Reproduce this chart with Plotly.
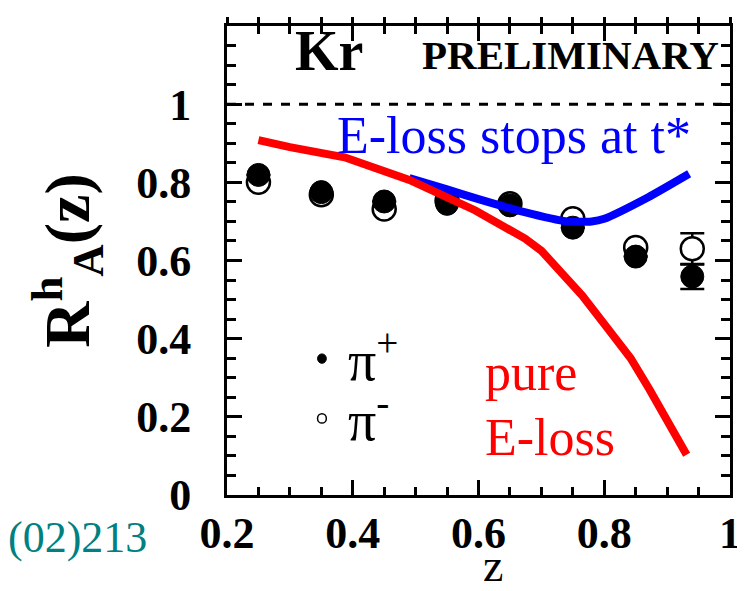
import plotly.graph_objects as go

# ---- data ----
z = [0.25, 0.35, 0.45, 0.55, 0.65, 0.75, 0.85, 0.94]
pi_plus = [0.819, 0.775, 0.751, 0.745, 0.741, 0.684, 0.610, 0.559]
pi_minus = [0.800, 0.768, 0.732, 0.753, 0.745, 0.707, 0.633, 0.630]
pi_plus_err = [None, None, None, None, None, None, None, 0.032]
pi_minus_err = [None, None, None, None, None, None, None, 0.040]

pure_z = [0.25, 0.30, 0.387, 0.49, 0.595, 0.674, 0.70, 0.765, 0.806, 0.842, 0.872, 0.931]
pure_r = [0.908, 0.89, 0.864, 0.806, 0.728, 0.656, 0.625, 0.51, 0.425, 0.35, 0.27, 0.103]

stop_z = [0.49, 0.55, 0.60, 0.67, 0.74, 0.78, 0.80, 0.87, 0.935]
stop_r = [0.811, 0.782, 0.757, 0.725, 0.700, 0.700, 0.707, 0.762, 0.822]

x_ticks = [0.2, 0.4, 0.6, 0.8, 1.0]
x_labels = ["0.2", "0.4", "0.6", "0.8", "1"]
y_ticks = [0, 0.2, 0.4, 0.6, 0.8, 1.0]
y_labels = ["0", "0.2", "0.4", "0.6", "0.8", "1"]

SERIF = "Liberation Serif"

fig = go.Figure()

fig.add_trace(go.Scatter(
    x=z, y=pi_minus, mode="markers",
    marker=dict(symbol="circle", size=23, color="white", line=dict(color="black", width=2.5)),
    error_y=dict(type="data", array=pi_minus_err, color="black", thickness=2.5, width=12),
    showlegend=False))
fig.add_trace(go.Scatter(
    x=z, y=pi_plus, mode="markers",
    marker=dict(symbol="circle", size=23, color="black", line=dict(color="black", width=1)),
    error_y=dict(type="data", array=pi_plus_err, color="black", thickness=2.5, width=12),
    showlegend=False))
fig.add_trace(go.Scatter(
    x=stop_z, y=stop_r, mode="lines", line=dict(color="#0000ff", width=8, shape="spline", smoothing=0.6),
    showlegend=False))
fig.add_trace(go.Scatter(
    x=pure_z, y=pure_r, mode="lines", line=dict(color="#ff0000", width=8),
    showlegend=False))
# invisible trace for top axis ticks
fig.add_trace(go.Scatter(x=[0.2, 1.0], y=[0, 0], xaxis="x2", mode="markers",
                         marker=dict(opacity=0), hoverinfo="skip", showlegend=False))

# reference line at 1
fig.add_shape(type="line", xref="x", yref="y", x0=0.2, x1=1.0, y0=1, y1=1,
              line=dict(color="black", width=3, dash="dash"))

# legend markers
fig.add_shape(type="circle", xref="x", yref="y", x0=0.344, x1=0.358, y0=0.337, y1=0.361,
              fillcolor="black", line=dict(color="black", width=1))
fig.add_shape(type="circle", xref="x", yref="y", x0=0.344, x1=0.358, y0=0.184, y1=0.208,
              fillcolor="white", line=dict(color="black", width=1.5))

ann = [
    dict(x=0.305, y=1.135, text="<b>Kr</b>", font=dict(size=56, family=SERIF, color="black"),
         xanchor="left", yanchor="middle"),
    dict(x=0.985, y=1.125, text="<b>PRELIMINARY</b>", font=dict(size=41, family=SERIF, color="black"),
         xanchor="right", yanchor="middle"),
    dict(x=0.372, y=0.92, text="E-loss stops at t*", font=dict(size=52, family=SERIF, color="#0000ff"),
         xanchor="left", yanchor="middle"),
    dict(x=0.607, y=0.313, text="pure", font=dict(size=52, family=SERIF, color="#ff0000"),
         xanchor="left", yanchor="middle"),
    dict(x=0.607, y=0.148, text="E-loss", font=dict(size=52, family=SERIF, color="#ff0000"),
         xanchor="left", yanchor="middle"),
    dict(x=0.39, y=0.355, text="π<sup>+</sup>", font=dict(size=56, family=SERIF, color="black"),
         xanchor="left", yanchor="middle"),
    dict(x=0.39, y=0.20, text="π<sup>-</sup>", font=dict(size=56, family=SERIF, color="black"),
         xanchor="left", yanchor="middle"),
]
for a in ann:
    a.update(xref="x", yref="y", showarrow=False)
    fig.add_annotation(**a)

fig.add_annotation(xref="paper", yref="paper", x=-0.155, y=-0.09, xanchor="right", yanchor="middle",
                   text="(02)213", showarrow=False,
                   font=dict(size=44, family=SERIF, color="#008080"))
fig.add_annotation(xref="paper", yref="paper", x=0.528, y=-0.208, xanchor="center", yanchor="bottom",
                   text="z", showarrow=False,
                   font=dict(size=46, family=SERIF, color="black"))

axis_common = dict(showline=True, linecolor="black", linewidth=3, showgrid=False, zeroline=False,
                   ticks="inside", tickcolor="black", tickwidth=2.5)

fig.update_layout(
    width=745, height=591,
    margin=dict(l=219, r=18, t=17, b=104),
    paper_bgcolor="white", plot_bgcolor="white",
    font=dict(family=SERIF, color="black"),
    xaxis=dict(range=[0.2, 1.0], tickvals=x_ticks, ticktext=x_labels, ticklen=15,
               mirror="ticks", ticklabelstandoff=-3,
               tickfont=dict(size=44, family=SERIF, color="black", weight="bold"),
               minor=dict(dtick=0.05, tick0=0.2, ticks="inside", ticklen=8, tickwidth=2.5, tickcolor="black"),
               **axis_common),
    xaxis2=dict(range=[0.2, 1.0], overlaying="x", side="top", anchor="y", showline=True,
                linecolor="black", linewidth=3, showgrid=False, zeroline=False,
                ticks="outside", ticklen=6, tickwidth=2.5, tickcolor="black",
                tickvals=x_ticks, showticklabels=False,
                minor=dict(dtick=0.05, tick0=0.2, ticks="outside", ticklen=6, tickwidth=2.5, tickcolor="black")),
    yaxis=dict(range=[0, 1.2], tickvals=y_ticks, ticktext=y_labels, ticklen=15,
               mirror="ticks", ticklabelstandoff=24,
               tickfont=dict(size=44, family=SERIF, color="black", weight="bold"),
               minor=dict(dtick=0.05, tick0=0, ticks="inside", ticklen=9, tickwidth=2.5, tickcolor="black"),
               title=dict(text="R<sup>h</sup><sub>A</sub>(z)",
                          font=dict(size=64, family=SERIF, color="black", weight="bold"), standoff=26),
               **axis_common),
)

fig.write_html("out.html")
